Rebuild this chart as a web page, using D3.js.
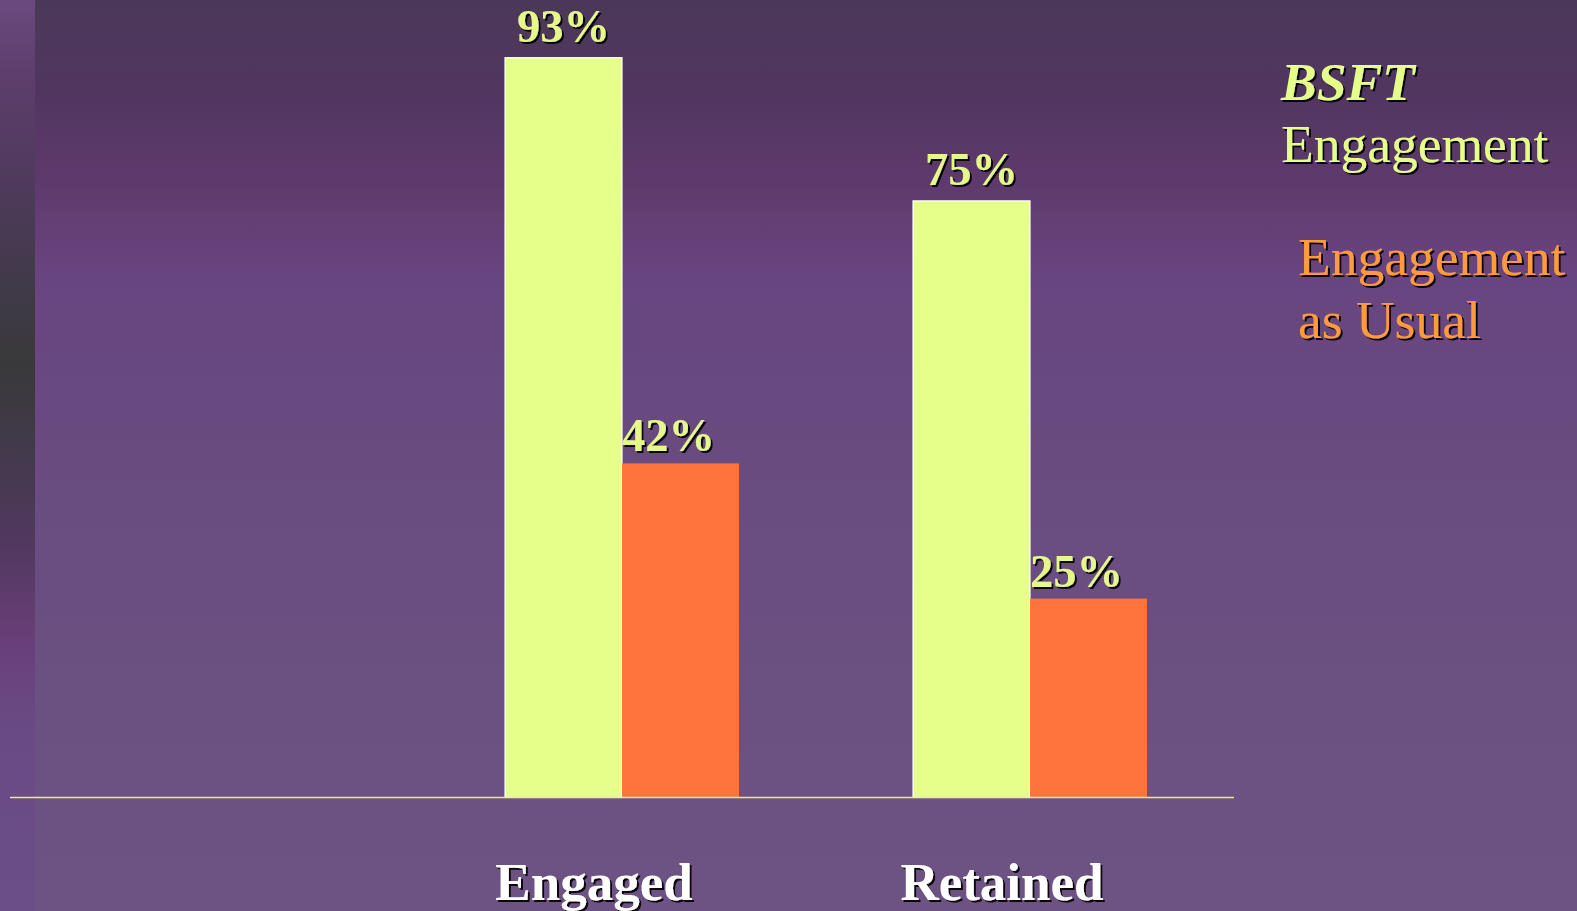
<!DOCTYPE html>
<html lang="en">
<head>
<meta charset="UTF-8"/>
<title>BSFT Engagement</title>
<script src="https://d3js.org/d3.v7.min.js"></script>
<style>
    body { margin: 0; background-color: #6a4a80; overflow: hidden; }
    svg  { display: block; }
</style>
</head>
<body>
<script>
// data
var categories = ["", "Engaged", "Retained"];
var series = ["BSFT Engagement", "Engagement as Usual"];
var bsftValues = [null, 93, 75];
var usualValues = [null, 42, 25];
var legendLines = [
    ["BSFT", "Engagement"],
    ["Engagement", "as Usual"]
];

var w = 1577;
var h = 911;
var baseY = 797.5;

var svg = d3.select("body")
            .append("svg")
            .attr("width", w)
            .attr("height", h);

var defs = svg.append("defs");

// background gradient
var bg = defs.append("linearGradient")
            .attr("id", "bg")
            .attr("x1", 0).attr("y1", 0).attr("x2", 0).attr("y2", 1);
[[0, "#4b3858"], [0.1, "#513660"], [0.2, "#5e3a6c"], [0.3, "#684580"],
 [0.5, "#694b80"], [0.75, "#6b5082"], [1, "#6d5384"]].forEach(function(s){
    bg.append("stop").attr("offset", s[0]).attr("stop-color", s[1]);
});

var strip = defs.append("linearGradient")
            .attr("id", "strip")
            .attr("x1", 0).attr("y1", 0).attr("x2", 0).attr("y2", 1);
[[0, "#6a4a80"], [0.08, "#5e3e6c"], [0.2, "#4f3a5c"], [0.32, "#403a48"],
 [0.4, "#39393b"], [0.5, "#433a4c"], [0.6, "#523860"], [0.7, "#683f78"],
 [0.8, "#6a4a84"], [1, "#6b4e87"]].forEach(function(s){
    strip.append("stop").attr("offset", s[0]).attr("stop-color", s[1]);
});

var shadow = defs.append("filter")
            .attr("id", "shadow")
            .attr("x", "-10%").attr("y", "-10%")
            .attr("width", "130%").attr("height", "140%");
shadow.append("feDropShadow")
        .attr("dx", 2).attr("dy", 2)
        .attr("stdDeviation", 0.6)
        .attr("flood-color", "#000")
        .attr("flood-opacity", 0.9);

svg.append("rect")
    .attr("width", w).attr("height", h)
    .attr("fill", "url(#bg)");
svg.append("rect")
    .attr("width", 35).attr("height", h)
    .attr("fill", "url(#strip)");

// scales
var x0 = d3.scaleBand()
            .domain(categories)
            .range([10, 1234])
            .padding(0);

var x1 = d3.scaleBand()
            .domain(series)
            .range([0, x0.bandwidth()])
            .paddingInner(0)
            .paddingOuter(0.744);

var y = d3.scaleLinear()
            .domain([0, 100])
            .range([baseY, 2]);

var color = d3.scaleOrdinal()
            .domain(series)
            .range(["#e6ff8a", "#ff733c"]);

var rows = categories.map(function(c, i){
    return [
        {cat: c, s: series[0], v: bsftValues[i]},
        {cat: c, s: series[1], v: usualValues[i]}
    ];
});
var bars = d3.merge(rows).filter(function(d){ return d.v != null; });

// bars
svg.selectAll("rect.bar")
    .data(bars)
    .enter()
    .append("rect")
    .attr("class", "bar")
    .attr("x", function(d){ return x0(d.cat) + x1(d.s); })
    .attr("y", function(d){ return y(d.v); })
    .attr("width", x1.bandwidth())
    .attr("height", function(d){ return baseY - y(d.v); })
    .attr("fill", function(d){ return color(d.s); })
    .attr("stroke", function(d){ return d.s == series[0] ? "#ffffff" : "none"; })
    .attr("stroke-width", 1.2);

// baseline
svg.append("line")
    .attr("x1", 10).attr("x2", 1234)
    .attr("y1", baseY).attr("y2", baseY)
    .attr("stroke", "#e8f07a")
    .attr("stroke-width", 1.5);

// value labels
svg.selectAll("text.val")
    .data(bars)
    .enter()
    .append("text")
    .attr("class", "val")
    .attr("x", function(d){
        var cx = x0(d.cat) + x1(d.s) + x1.bandwidth() / 2;
        return d.s == series[0] ? cx : cx - 12;
    })
    .attr("y", function(d){ return y(d.v) - (d.s == series[0] ? 16 : 12); })
    .attr("text-anchor", "middle")
    .attr("font-family", "'Liberation Serif', 'Times New Roman', serif")
    .attr("font-weight", "bold")
    .attr("font-size", 46.5)
    .attr("fill", "#e6f88a")
    .attr("filter", "url(#shadow)")
    .text(function(d){ return d.v + "%"; });

// category labels
svg.selectAll("text.cat")
    .data(categories.filter(function(c){ return c != ""; }))
    .enter()
    .append("text")
    .attr("class", "cat")
    .attr("x", function(d){ return x0(d) + x0.bandwidth() / 2 - 28; })
    .attr("y", 900)
    .attr("text-anchor", "middle")
    .attr("font-family", "'Liberation Serif', 'Times New Roman', serif")
    .attr("font-weight", "bold")
    .attr("font-size", 53)
    .attr("fill", "#ffffff")
    .attr("filter", "url(#shadow)")
    .text(function(d){ return d; });

// legend
var leg1 = svg.append("text")
    .attr("font-family", "'Liberation Serif', 'Times New Roman', serif")
    .attr("font-size", 53.5)
    .attr("fill", "#e6ff8a")
    .attr("filter", "url(#shadow)");
leg1.append("tspan")
    .attr("x", 1281).attr("y", 100)
    .attr("font-weight", "bold")
    .attr("font-style", "italic")
    .text(legendLines[0][0]);
leg1.append("tspan")
    .attr("x", 1281).attr("y", 162)
    .text(legendLines[0][1]);

var leg2 = svg.append("text")
    .attr("font-family", "'Liberation Serif', 'Times New Roman', serif")
    .attr("font-size", 53.5)
    .attr("fill", "#ff9a3c")
    .attr("filter", "url(#shadow)");
leg2.selectAll("tspan")
    .data(legendLines[1])
    .enter()
    .append("tspan")
    .attr("x", 1298)
    .attr("y", function(d, i){ return 275 + i * 63; })
    .text(function(d){ return d; });
</script>
</body>
</html>
